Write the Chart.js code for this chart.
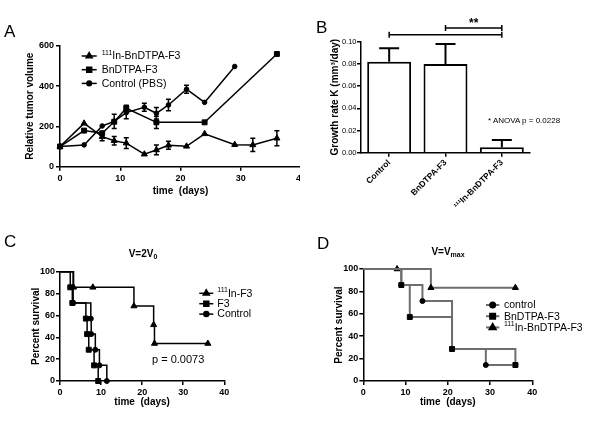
<!DOCTYPE html>
<html>
<head>
<meta charset="utf-8">
<script src="https://cdn.jsdelivr.net/npm/chart.js@4.4.1/dist/chart.umd.min.js"></script>
<style>
  html, body { margin: 0; padding: 0; background: #fff; }
  #fig { position: relative; width: 600px; height: 424px; overflow: hidden;
         font-family: 'Liberation Sans', Arial, sans-serif; color: #000; }
  .panel { position: absolute; overflow: hidden; }
  .panel canvas { display: block; }
  .txt { position: absolute; line-height: 1; white-space: nowrap; }
  .letter { font-size: 17px; }
  .ptitle { font-size: 10px; font-weight: bold; transform: translateX(-50%); }
  .ptitle sub { font-size: 7px; vertical-align: -2px; line-height: 0; }
</style>
</head>
<body>
<div id="fig">
  <div class="panel" style="left:0;top:0;width:300px;height:210px"><canvas id="chartA" width="320" height="210"></canvas></div>
  <div class="panel" style="left:300px;top:0;width:300px;height:210px"><canvas id="chartB" width="300" height="210"></canvas></div>
  <div class="panel" style="left:0;top:210px;width:300px;height:214px"><canvas id="chartC" width="300" height="214"></canvas></div>
  <div class="panel" style="left:300px;top:210px;width:300px;height:214px"><canvas id="chartD" width="300" height="214"></canvas></div>

  <div class="txt letter" style="left:4px;top:23px">A</div>
  <div class="txt letter" style="left:316px;top:19px">B</div>
  <div class="txt letter" style="left:4px;top:233px">C</div>
  <div class="txt letter" style="left:317px;top:235px">D</div>

  <div class="txt ptitle" style="left:143px;top:249px">V=2V<sub>0</sub></div>
  <div class="txt ptitle" style="left:448px;top:247px">V=V<sub>max</sub></div>

  <div class="txt" style="left:488px;top:117px;font-size:8px">* ANOVA p = 0.0228</div>
  <div class="txt" style="left:152px;top:354px;font-size:11px">p = 0.0073</div>
</div>

<script>
(function () {
    'use strict';

    var FONT = "'Liberation Sans', Arial, sans-serif";
    var SUP = '\u00b9\u00b9\u00b9';

    // Panel A: relative tumor volume over time (days).
    var IN_DAYS = [0, 4, 7, 9, 11, 14, 16, 18, 21, 24, 29, 32, 36];
    var IN_VOLUME = [100, 215, 149, 129, 117, 62, 83, 106, 101, 163, 109, 108, 141];
    var IN_ERR = [0, 0, 20, 21, 27, 0, 24, 20, 0, 0, 0, 33, 37];

    var BN_DAYS = [0, 4, 7, 9, 11, 16, 24, 36];
    var BN_VOLUME = [100, 179, 166, 223, 290, 220, 220, 559];
    var BN_ERR = [0, 0, 0, 0, 15, 30, 0, 0];

    var PBS_DAYS = [0, 4, 7, 9, 11, 14, 16, 18, 21, 24, 29];
    var PBS_VOLUME = [100, 108, 202, 225, 268, 295, 265, 306, 384, 319, 497];
    var PBS_ERR = [0, 0, 0, 35, 30, 20, 28, 28, 20, 0, 0];

    // Panel B: growth rate K per group.
    var GROUPS = ['Control', 'BnDTPA-F3', SUP + 'In-BnDTPA-F3'];
    var GROWTH_K = [0.082, 0.080, 0.005];
    var GROWTH_SEM = [0.012, 0.018, 0.0065];

    // Panel C: survival to V = 2V0.
    var C_IN_T = [0, 3.3, 8, 18, 22.8, 23, 36];
    var C_IN_S = [100, 85.7, 85.7, 68.6, 51.4, 34.3, 34.3];
    var C_F3_T = [0, 2.5, 3, 6.3, 6.6, 7, 8.3, 9.3];
    var C_F3_S = [100, 85.7, 71.4, 57.1, 42.9, 28.6, 14.3, 0];
    var C_CTRL_T = [0, 3.2, 7.5, 7.6, 8.6, 9.6, 11.4];
    var C_CTRL_S = [100, 71.4, 57.1, 42.9, 28.6, 14.3, 0];

    // Panel D: survival to V = Vmax.
    var D_CTRL_T = [0, 9, 14, 21, 29, 36];
    var D_CTRL_S = [100, 85.7, 71.4, 28.6, 14.3, 14.3];
    var D_BN_T = [0, 9, 11, 21, 36];
    var D_BN_S = [100, 85.7, 57.1, 28.6, 14.3];
    var D_IN_T = [0, 8, 16, 36];
    var D_IN_S = [100, 100, 83.3, 83.3];

    Chart.defaults.font.family = FONT;
    Chart.defaults.color = '#000';
    Chart.defaults.animation = false;
    Chart.defaults.responsive = false;
    Chart.defaults.plugins.legend.display = false;
    Chart.defaults.plugins.tooltip.enabled = false;

    function points(xs, ys) {
        return xs.map(function (x, i) { return { x: x, y: ys[i] }; });
    }

    // Marker radius per point, hidden on the starting point of a survival curve.
    function kmRadius(xs, r) {
        return xs.map(function (x, i) { return i === 0 ? 0 : r; });
    }

    function axis(o) {
        var ticks = {
            stepSize: o.step,
            color: '#000',
            padding: o.tickPad,
            autoSkip: false,
            maxRotation: o.rotation || 0,
            minRotation: o.rotation || 0,
            font: { size: o.tickSize || 9, weight: o.tickWeight || 'bold' }
        };
        if (o.format) ticks.callback = o.format;
        return {
            type: o.type || 'linear',
            min: o.min,
            max: o.max,
            offset: o.offset || false,
            ticks: ticks,
            grid: {
                display: true, drawOnChartArea: false, drawTicks: true,
                tickLength: 4, color: '#000', lineWidth: 1.5, offset: false
            },
            border: { display: true, color: '#000', width: 1.5 },
            title: {
                display: !!o.title,
                text: o.title,
                color: '#000',
                font: { size: 10, weight: 'bold' },
                padding: o.titlePad
            },
            afterFit: function (scale) {
                if (o.width) scale.width = o.width;
                if (o.height) scale.height = o.height;
            }
        };
    }

    /**
     * Vertical error bars drawn from each dataset's "errors" array.
     */
    var errorBars = {
        id: 'errorBars',
        afterDatasetsDraw: function (chart, args, opts) {
            var ctx = chart.ctx;
            var yScale = chart.scales.y;
            ctx.save();
            ctx.strokeStyle = '#000';
            ctx.lineWidth = opts.lineWidth || 1.5;
            chart.data.datasets.forEach(function (ds, di) {
                if (!ds.errors) return;
                var meta = chart.getDatasetMeta(di);
                ds.errors.forEach(function (e, i) {
                    if (!e) return;
                    var raw = ds.data[i];
                    var v = typeof raw === 'object' ? raw.y : raw;
                    var x = meta.data[i].x;
                    var top = yScale.getPixelForValue(v + e);
                    var bottom = yScale.getPixelForValue(opts.upOnly ? v : v - e);
                    var half = opts.cap / 2;
                    ctx.beginPath();
                    ctx.moveTo(x, top);
                    ctx.lineTo(x, bottom);
                    ctx.moveTo(x - half, top);
                    ctx.lineTo(x + half, top);
                    if (!opts.upOnly) {
                        ctx.moveTo(x - half, bottom);
                        ctx.lineTo(x + half, bottom);
                    }
                    ctx.stroke();
                });
            });
            ctx.restore();
        }
    };

    /**
     * Legend inside the plot: line sample with marker, then the label
     * (a leading "111" is set as a real superscript).
     */
    var insetLegend = {
        id: 'insetLegend',
        afterDraw: function (chart, args, opts) {
            if (opts.x === undefined) return;
            var ctx = chart.ctx;
            ctx.save();
            ctx.textBaseline = 'middle';
            chart.data.datasets.forEach(function (ds, i) {
                var y = opts.y + i * opts.dy;
                var r = Array.isArray(ds.pointRadius) ? ds.pointRadius[1] : ds.pointRadius;
                ctx.strokeStyle = ds.borderColor;
                ctx.lineWidth = ds.borderWidth;
                ctx.beginPath();
                ctx.moveTo(opts.x, y);
                ctx.lineTo(opts.x + opts.lineLen, y);
                ctx.stroke();
                ctx.fillStyle = '#000';
                ctx.strokeStyle = '#000';
                Chart.helpers.drawPoint(ctx, {
                    pointStyle: ds.pointStyle, radius: r, borderWidth: 1, rotation: 0
                }, opts.x + opts.lineLen / 2, y);

                var tx = opts.x + opts.lineLen + opts.gap;
                var text = ds.label;
                if (text.indexOf(SUP) === 0) {
                    ctx.font = Math.round(opts.fontSize * 0.65) + 'px ' + FONT;
                    ctx.fillText('111', tx, y - opts.fontSize * 0.3);
                    tx += ctx.measureText('111').width;
                    text = text.slice(SUP.length);
                }
                ctx.font = opts.fontSize + 'px ' + FONT;
                ctx.fillText(text, tx, y + 0.5);
            });
            ctx.restore();
        }
    };

    /**
     * Significance brackets above the bars.
     */
    var brackets = {
        id: 'brackets',
        afterDraw: function (chart, args, opts) {
            if (!opts.items) return;
            var ctx = chart.ctx;
            var xs = chart.scales.x;
            var ys = chart.scales.y;
            ctx.save();
            ctx.strokeStyle = '#000';
            ctx.fillStyle = '#000';
            ctx.lineWidth = 1.5;
            opts.items.forEach(function (b) {
                var x1 = xs.getPixelForValue(b.from);
                var x2 = xs.getPixelForValue(b.to);
                var y = ys.getPixelForValue(b.level);
                ctx.beginPath();
                ctx.moveTo(x1, y - 3); ctx.lineTo(x1, y + 3);
                ctx.moveTo(x2, y - 3); ctx.lineTo(x2, y + 3);
                ctx.moveTo(x1, y); ctx.lineTo(x2, y);
                ctx.stroke();
                if (b.label) {
                    ctx.font = 'bold 12px ' + FONT;
                    ctx.textAlign = 'center';
                    ctx.textBaseline = 'alphabetic';
                    ctx.fillText(b.label, (x1 + x2) / 2, y - 1);
                }
            });
            ctx.restore();
        }
    };

    function lineSet(label, data, style, color, radius) {
        return {
            label: label,
            data: data,
            borderColor: color,
            borderWidth: 1.5,
            pointStyle: style,
            pointRadius: radius,
            pointBackgroundColor: '#000',
            pointBorderColor: '#000',
            pointBorderWidth: 1,
            fill: false,
            tension: 0,
            clip: false
        };
    }

    // Panel A
    var setIn = lineSet(SUP + 'In-BnDTPA-F3', points(IN_DAYS, IN_VOLUME), 'triangle', '#000', 3.5);
    setIn.errors = IN_ERR;
    var setBn = lineSet('BnDTPA-F3', points(BN_DAYS, BN_VOLUME), 'rect', '#000', 3.5);
    setBn.errors = BN_ERR;
    var setPbs = lineSet('Control (PBS)', points(PBS_DAYS, PBS_VOLUME), 'circle', '#000', 2.3);
    setPbs.errors = PBS_ERR;

    new Chart(document.getElementById('chartA'), {
        type: 'line',
        data: { datasets: [setIn, setBn, setPbs] },
        options: {
            layout: { padding: { top: 45.7, right: 19, left: 0, bottom: 0 } },
            scales: {
                x: axis({ min: 0, max: 40, step: 10, tickPad: 2, height: 43.3,
                          title: 'time  (days)', titlePad: { top: 0, bottom: 13 } }),
                y: axis({ min: 0, max: 600, step: 200, tickPad: 2, width: 60,
                          title: 'Relative tumor volume', titlePad: { top: 24, bottom: 0 } })
            },
            plugins: {
                errorBars: { cap: 5, lineWidth: 1.5 },
                insetLegend: { x: 81.7, y: 56, dy: 13.7, lineLen: 15, gap: 5, fontSize: 10.5 }
            }
        },
        plugins: [errorBars, insetLegend]
    });

    // Panel B
    new Chart(document.getElementById('chartB'), {
        type: 'bar',
        data: {
            labels: GROUPS,
            datasets: [{
                data: GROWTH_K,
                errors: GROWTH_SEM,
                backgroundColor: '#fff',
                borderColor: '#000',
                borderWidth: 2,
                barPercentage: 0.78,
                categoryPercentage: 1
            }]
        },
        options: {
            layout: { padding: { top: 41.7, right: 70, left: 0, bottom: 0 } },
            scales: {
                x: axis({ type: 'category', offset: true, tickPad: 1, height: 57.3, rotation: 45, tickSize: 8.5 }),
                y: axis({ min: 0, max: 0.10, step: 0.02, tickPad: 0.5, width: 61, tickSize: 7.5, tickWeight: 'normal',
                          format: function (v) { return v.toFixed(2); },
                          title: 'Growth rate K (mm\u00b3/day)', titlePad: { top: 29.5, bottom: 0 } })
            },
            plugins: {
                errorBars: { cap: 20, lineWidth: 2, upOnly: true },
                brackets: { items: [
                    { from: 0, to: 2, level: 0.1063 },
                    { from: 1, to: 2, level: 0.1124, label: '**' }
                ] }
            }
        },
        plugins: [errorBars, brackets]
    });

    // Panel C
    new Chart(document.getElementById('chartC'), {
        type: 'line',
        data: {
            datasets: [
                lineSet(SUP + 'In-F3', points(C_IN_T, C_IN_S), 'triangle', '#000', kmRadius(C_IN_T, 3.5)),
                lineSet('F3', points(C_F3_T, C_F3_S), 'rect', '#000', kmRadius(C_F3_T, 3.5)),
                lineSet('Control', points(C_CTRL_T, C_CTRL_S), 'circle', '#000', kmRadius(C_CTRL_T, 2.5))
            ].map(function (ds) { ds.stepped = 'before'; return ds; })
        },
        options: {
            layout: { padding: { top: 61.7, right: 75.7, left: 0, bottom: 0 } },
            scales: {
                x: axis({ min: 0, max: 40, step: 10, tickPad: 2, height: 43,
                          title: 'time  (days)', titlePad: { top: 0, bottom: 15.3 } }),
                y: axis({ min: 0, max: 100, step: 20, tickPad: 1, width: 60,
                          title: 'Percent survival', titlePad: { top: 30.7, bottom: 0 } })
            },
            plugins: {
                insetLegend: { x: 199.3, y: 83.3, dy: 10.4, lineLen: 14, gap: 4, fontSize: 10.5 }
            }
        },
        plugins: [insetLegend]
    });

    // Panel D
    new Chart(document.getElementById('chartD'), {
        type: 'line',
        data: {
            datasets: [
                lineSet('control', points(D_CTRL_T, D_CTRL_S), 'circle', '#6e6e6e', kmRadius(D_CTRL_T, 2.5)),
                lineSet('BnDTPA-F3', points(D_BN_T, D_BN_S), 'rect', '#6e6e6e', kmRadius(D_BN_T, 3.5)),
                lineSet(SUP + 'In-BnDTPA-F3', points(D_IN_T, D_IN_S), 'triangle', '#6e6e6e', kmRadius(D_IN_T, 3.5))
            ].map(function (ds) { ds.stepped = 'before'; ds.borderWidth = 2; return ds; })
        },
        options: {
            layout: { padding: { top: 59, right: 67.7, left: 0, bottom: 0 } },
            scales: {
                x: axis({ min: 0, max: 40, step: 10, tickPad: 2, height: 43,
                          title: 'time  (days)', titlePad: { top: 0, bottom: 15.3 } }),
                y: axis({ min: 0, max: 100, step: 20, tickPad: 1, width: 63.3,
                          title: 'Percent survival', titlePad: { top: 33, bottom: 0 } })
            },
            plugins: {
                insetLegend: { x: 186, y: 95, dy: 11.2, lineLen: 13.3, gap: 4.7, fontSize: 10.5 }
            }
        },
        plugins: [insetLegend]
    });
})();
</script>
</body>
</html>
